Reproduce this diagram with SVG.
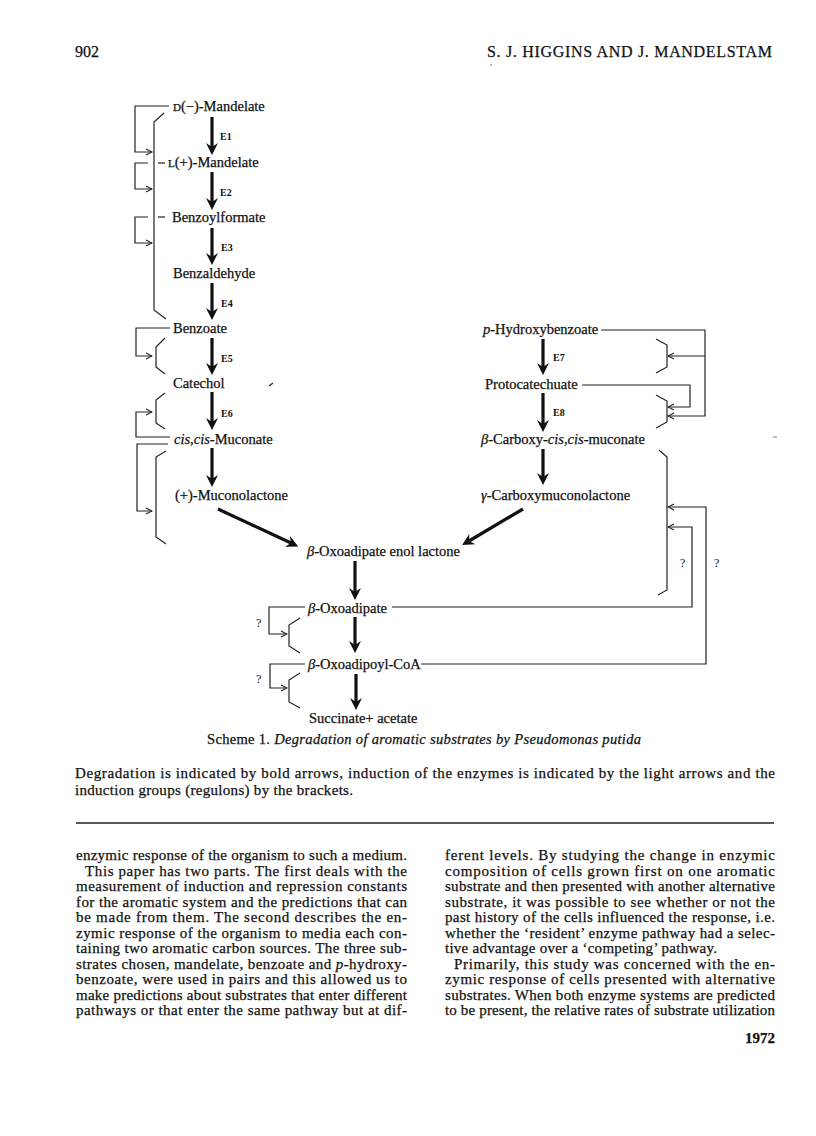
<svg xmlns="http://www.w3.org/2000/svg" width="816" height="1136" viewBox="0 0 816 1136">
<style>
  text { font-family: "Liberation Serif", "Times New Roman", serif; fill: #111; stroke: #111; stroke-width: 0.25; }
  .lbl { font-size: 14.5px; }
  .enz { font-size: 10px; font-weight: bold; stroke-width: 0; }
  .q { font-size: 12px; stroke-width: 0; }
  .body { font-size: 15px; }
  .it { font-style: italic; }
  .thin { fill: none; stroke: #222; stroke-width: 1.2; }
  .tharr { fill: none; stroke: #222; stroke-width: 1.2; marker-end: url(#thinHead); }
  .bold { fill: none; stroke: #111; stroke-width: 3.2; marker-end: url(#boldHead); }
</style>
<defs>
  <marker id="boldHead" viewBox="0 0 12 12" refX="4" refY="6" markerWidth="12" markerHeight="12" markerUnits="userSpaceOnUse" orient="auto">
    <path d="M0,0 L12,6 L0,12 L4,6 z" fill="#111"/>
  </marker>
  <marker id="thinHead" viewBox="0 0 8 8" refX="7" refY="4" markerWidth="8" markerHeight="8" markerUnits="userSpaceOnUse" orient="auto">
    <path d="M1,1 L7,4 L1,7" fill="none" stroke="#222" stroke-width="1.1"/>
  </marker>
</defs>
<rect width="816" height="1136" fill="#fff"/>

<!-- page header -->
<g id="header">
  <text x="75" y="57" font-size="16">902</text>
  <text x="487" y="57" font-size="16" textLength="285" lengthAdjust="spacing">S. J. HIGGINS AND J. MANDELSTAM</text>
  <circle cx="491" cy="65" r="0.8" fill="#555"/>
</g>

<!-- nodes -->
<g id="n-d-mandelate"><text class="lbl" x="173" y="111"><tspan font-size="11">D</tspan>(−)-Mandelate</text></g>
<g id="n-l-mandelate"><text class="lbl" x="168" y="167"><tspan font-size="11">L</tspan>(+)-Mandelate</text></g>
<g id="n-benzoylformate"><text class="lbl" x="172" y="222">Benzoylformate</text></g>
<g id="n-benzaldehyde"><text class="lbl" x="173" y="278">Benzaldehyde</text></g>
<g id="n-benzoate"><text class="lbl" x="173" y="333">Benzoate</text></g>
<g id="n-catechol"><text class="lbl" x="173" y="388">Catechol</text></g>
<g id="n-muconate"><text class="lbl" x="174" y="444"><tspan class="it">cis,cis</tspan>-Muconate</text></g>
<g id="n-muconolactone"><text class="lbl" x="175" y="500">(+)-Muconolactone</text></g>
<g id="n-p-hydroxybenzoate"><text class="lbl" x="483" y="334"><tspan class="it">p</tspan>-Hydroxybenzoate</text></g>
<g id="n-protocatechuate"><text class="lbl" x="485" y="389">Protocatechuate</text></g>
<g id="n-carboxymuconate"><text class="lbl" x="481" y="444"><tspan class="it">β</tspan>-Carboxy-<tspan class="it">cis,cis</tspan>-muconate</text></g>
<g id="n-carboxymuconolactone"><text class="lbl" x="481" y="500"><tspan class="it">γ</tspan>-Carboxymuconolactone</text></g>
<g id="n-enol-lactone"><text class="lbl" x="307" y="556"><tspan class="it">β</tspan>-Oxoadipate enol lactone</text></g>
<g id="n-oxoadipate"><text class="lbl" x="308" y="613"><tspan class="it">β</tspan>-Oxoadipate</text></g>
<g id="n-oxoadipoyl-coa"><text class="lbl" x="308" y="669"><tspan class="it">β</tspan>-Oxoadipoyl-CoA</text></g>
<g id="n-succinate"><text class="lbl" x="309" y="723">Succinate+ acetate</text></g>

<!-- connectors -->
<g id="connectors">
  <!-- degradation (bold) -->
  <line class="bold" x1="212" y1="117" x2="212" y2="147"/>
  <line class="bold" x1="212" y1="172" x2="212" y2="202"/>
  <line class="bold" x1="212" y1="228" x2="212" y2="257"/>
  <line class="bold" x1="212" y1="283" x2="212" y2="312"/>
  <line class="bold" x1="212" y1="338" x2="212" y2="367"/>
  <line class="bold" x1="212" y1="392" x2="212" y2="422"/>
  <line class="bold" x1="212" y1="448" x2="212" y2="479"/>
  <line class="bold" x1="543" y1="339" x2="543" y2="367"/>
  <line class="bold" x1="543" y1="393" x2="543" y2="424"/>
  <line class="bold" x1="543" y1="449" x2="543" y2="477"/>
  <line class="bold" x1="218" y1="509" x2="291" y2="543"/>
  <line class="bold" x1="523" y1="509" x2="469" y2="541"/>
  <line class="bold" x1="355" y1="561" x2="355" y2="592"/>
  <line class="bold" x1="355" y1="617" x2="355" y2="645"/>
  <line class="bold" x1="356" y1="674" x2="356" y2="702"/>

  <!-- induction (thin arrows) -->
  <path class="tharr" d="M169,106 H135 V152 H152"/>
  <line class="thin" x1="158" y1="163" x2="165" y2="163"/>
  <path class="tharr" d="M148,163 H135 V189 H152"/>
  <line class="thin" x1="158" y1="217" x2="165" y2="217"/>
  <path class="tharr" d="M148,217 H135 V243 H152"/>
  <path class="tharr" d="M170,328 H136 V356 H152"/>
  <path class="tharr" d="M170,437 H136 V412 H152"/>
  <path class="tharr" d="M168,444 H137 V511 H152"/>

  <path class="tharr" d="M601,330 H705 V416 H668"/>
  <path class="tharr" d="M705,356 H668"/>
  <path class="tharr" d="M582,385 H690 V407 H668"/>
  <path class="tharr" d="M392,607 H692 V527 H668"/>
  <path class="tharr" d="M421,664 H706 V507 H668"/>

  <path class="tharr" d="M305,607 H269 V634 H287"/>
  <path class="tharr" d="M305,664 H270 V688 H287"/>

  <!-- regulon brackets -->
  <path class="thin" d="M164,113 L154,122 V310 L166,319"/>
  <path class="thin" d="M165,338 L156,347 V367 L165,374"/>
  <path class="thin" d="M165,393 L156,400 V423 L165,429"/>
  <path class="thin" d="M166,451 L156,457 V537 L166,544"/>
  <path class="thin" d="M656,339 L667,345 V367 L656,373"/>
  <path class="thin" d="M656,395 L667,401 V422 L656,428"/>
  <path class="thin" d="M659,450 L667,457 V590 L658,595"/>
  <path class="thin" d="M300,618 L289,625 V646 L300,653"/>
  <path class="thin" d="M300,673 L289,680 V702 L300,708"/>
</g>

<!-- enzyme labels and question marks -->
<g id="labels">
  <text class="enz" x="220" y="140">E1</text>
  <text class="enz" x="220" y="196">E2</text>
  <text class="enz" x="221" y="251">E3</text>
  <text class="enz" x="221" y="307">E4</text>
  <text class="enz" x="221" y="362">E5</text>
  <text class="enz" x="221" y="417">E6</text>
  <text class="enz" x="553" y="361">E7</text>
  <text class="enz" x="553" y="416">E8</text>
  <text class="q" x="680" y="567">?</text>
  <text class="q" x="714" y="567">?</text>
  <text class="q" x="256" y="627">?</text>
  <text class="q" x="256" y="683">?</text>
</g>

<!-- scan specks -->
<path d="M269,386 L273,383" stroke="#333" stroke-width="1.5"/>
<path d="M773,437 L777,437" stroke="#777" stroke-width="1"/>

<!-- caption -->
<g id="caption">
  <text x="207" y="744" font-size="14.5" textLength="434" lengthAdjust="spacing">Scheme 1. <tspan class="it">Degradation of aromatic substrates by Pseudomonas putida</tspan></text>
  <text x="75" y="778" font-size="15" textLength="700" lengthAdjust="spacing">Degradation is indicated by bold arrows, induction of the enzymes is indicated by the light arrows and the</text>
  <text x="75" y="795" font-size="15" textLength="278" lengthAdjust="spacing">induction groups (regulons) by the brackets.</text>
</g>

<line x1="76" y1="823" x2="774" y2="823" stroke="#222" stroke-width="1.5"/>

<!-- body text -->
<g id="body-left">
  <text class="body" x="76" y="860" textLength="331" lengthAdjust="spacing">enzymic response of the organism to such a medium.</text>
  <text class="body" x="85" y="876" textLength="322" lengthAdjust="spacing">This paper has two parts. The first deals with the</text>
  <text class="body" x="76" y="891" textLength="331" lengthAdjust="spacing">measurement of induction and repression constants</text>
  <text class="body" x="76" y="907" textLength="331" lengthAdjust="spacing">for the aromatic system and the predictions that can</text>
  <text class="body" x="76" y="922" textLength="331" lengthAdjust="spacing">be made from them. The second describes the en-</text>
  <text class="body" x="76" y="938" textLength="331" lengthAdjust="spacing">zymic response of the organism to media each con-</text>
  <text class="body" x="76" y="953" textLength="331" lengthAdjust="spacing">taining two aromatic carbon sources. The three sub-</text>
  <text class="body" x="76" y="969" textLength="331" lengthAdjust="spacing">strates chosen, mandelate, benzoate and <tspan class="it">p</tspan>-hydroxy-</text>
  <text class="body" x="76" y="984" textLength="331" lengthAdjust="spacing">benzoate, were used in pairs and this allowed us to</text>
  <text class="body" x="76" y="1000" textLength="331" lengthAdjust="spacing">make predictions about substrates that enter different</text>
  <text class="body" x="76" y="1015" textLength="331" lengthAdjust="spacing">pathways or that enter the same pathway but at dif-</text>
</g>
<g id="body-right">
  <text class="body" x="445" y="860" textLength="330" lengthAdjust="spacing">ferent levels. By studying the change in enzymic</text>
  <text class="body" x="445" y="876" textLength="330" lengthAdjust="spacing">composition of cells grown first on one aromatic</text>
  <text class="body" x="445" y="891" textLength="330" lengthAdjust="spacing">substrate and then presented with another alternative</text>
  <text class="body" x="445" y="907" textLength="330" lengthAdjust="spacing">substrate, it was possible to see whether or not the</text>
  <text class="body" x="445" y="922" textLength="330" lengthAdjust="spacing">past history of the cells influenced the response, i.e.</text>
  <text class="body" x="445" y="938" textLength="330" lengthAdjust="spacing">whether the ‘resident’ enzyme pathway had a selec-</text>
  <text class="body" x="445" y="953" textLength="272" lengthAdjust="spacing">tive advantage over a ‘competing’ pathway.</text>
  <text class="body" x="454" y="969" textLength="321" lengthAdjust="spacing">Primarily, this study was concerned with the en-</text>
  <text class="body" x="445" y="984" textLength="330" lengthAdjust="spacing">zymic response of cells presented with alternative</text>
  <text class="body" x="445" y="1000" textLength="330" lengthAdjust="spacing">substrates. When both enzyme systems are predicted</text>
  <text class="body" x="445" y="1015" textLength="330" lengthAdjust="spacing">to be present, the relative rates of substrate utilization</text>
  <text x="775" y="1043" font-size="15" font-weight="bold" text-anchor="end">1972</text>
</g>
</svg>
